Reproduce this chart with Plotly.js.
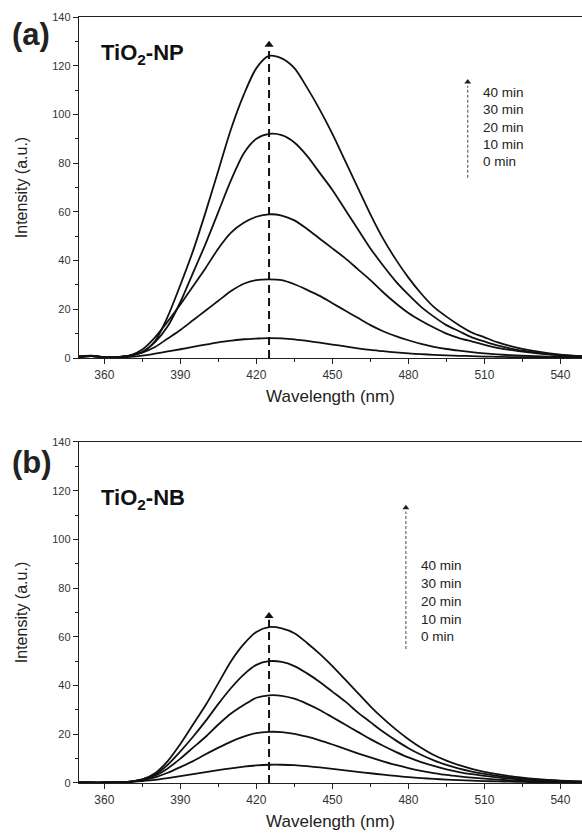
<!DOCTYPE html>
<html>
<head>
<meta charset="utf-8">
<script src="https://cdn.plot.ly/plotly-3.0.1.min.js"></script>
<style>html,body{margin:0;padding:0;background:#fff;}#chart{width:582px;height:836px;}</style>
</head>
<body>
<div id="chart"></div>
<script>
// Wavelength grid (nm)
const wavelength = [350,355,360,365,370,375,380,385,390,395,400,405,410,415,420,425,430,435,440,445,450,455,460,465,470,475,480,485,490,495,500,505,510,515,520,525,530,535,540,545,550];

const timeLabels = ["0 min","10 min","20 min","30 min","40 min"];

// Panel (a) TiO2-NP
const np_0min  = [0.8,1.0,0.4,0.3,0.5,1.0,1.8,2.7,3.6,4.6,5.5,6.4,7.1,7.7,8.0,8.2,8.1,7.7,7.0,6.3,5.5,4.8,4.0,3.3,2.8,2.3,1.9,1.6,1.3,1.1,0.9,0.8,0.6,0.5,0.4,0.35,0.3,0.25,0.2,0.15,0.1];
const np_10min = [0.6,0.9,0.3,0.4,1.0,2.2,4.5,8,11.5,15.5,19.5,23.5,27.5,30.5,32,32.3,32,30.3,28,25.5,22.5,19.5,16.5,13.5,11,9,7.3,5.8,4.6,3.7,3,2.4,1.9,1.5,1.2,1,0.8,0.6,0.5,0.4,0.3];
const np_20min = [0.5,0.8,0.3,0.4,1.0,3.5,8.5,15,22,29.5,37,45,51.5,55.5,58,59,58.5,56.5,53,49,45,41,36.5,32,27,22.5,18.5,15.3,12.5,10,8.2,6.8,5.4,4.2,3.3,2.6,2,1.5,1.1,0.8,0.6];
const np_30min = [0.5,0.8,0.3,0.4,1.0,2.5,6.5,13,23,35,47,60,73,84,90,92,91.5,88.5,83,76,69,61,53,45,38,31.5,26,21,17,13.5,11,8.5,6.8,5.2,4,3,2.3,1.7,1.2,0.9,0.6];
const np_40min = [0.5,0.8,0.3,0.4,1.0,2.5,7,17,30,44,60,77,94,108,119,124,123,119,111,102,92,81,70,59,49,40.5,33,26.5,21,17,13.5,10.5,8.5,6.5,5,3.8,2.8,2,1.4,1,0.7];

// Panel (b) TiO2-NB
const nb_0min  = [0.1,0.1,0.15,0.2,0.4,0.8,1.3,2,2.8,3.6,4.5,5.3,6,6.7,7.2,7.5,7.5,7.3,6.9,6.4,5.8,5.2,4.6,4,3.4,2.9,2.4,2,1.7,1.4,1.2,1,0.8,0.65,0.55,0.45,0.37,0.3,0.25,0.2,0.15];
const nb_10min = [0.2,0.2,0.2,0.3,0.5,1.1,2.3,4.2,6.5,9,11.8,14.5,17,19,20.5,21,20.9,20.2,19,17.5,15.8,14,12.2,10.5,8.9,7.4,6.1,5,4.1,3.3,2.7,2.2,1.8,1.4,1.1,0.9,0.7,0.55,0.45,0.35,0.3];
const nb_20min = [0.2,0.2,0.2,0.3,0.6,1.3,3,6,10,14.5,19,24,28.5,32,35,36,35.8,34.6,32.5,30,27,24,21,18,15.3,12.8,10.5,8.6,7,5.6,4.5,3.6,2.9,2.3,1.8,1.4,1.1,0.85,0.65,0.5,0.4];
const nb_30min = [0.2,0.2,0.2,0.3,0.6,1.5,3.5,7.5,13,19,25.5,32.5,39,44.5,48.5,50,49.7,48,45,41.5,37.5,33.5,29,25,21,17.5,14.3,11.6,9.3,7.4,5.9,4.7,3.7,2.9,2.3,1.8,1.4,1.1,0.85,0.65,0.5];
const nb_40min = [0.2,0.2,0.2,0.3,0.6,1.5,4,9,16,24,32,41,50,57,62,64,63.5,61.5,57.5,53,48,42.5,37,31.5,26.5,22,18,14.5,11.5,9.2,7.3,5.8,4.6,3.6,2.8,2.2,1.7,1.3,1,0.8,0.6];

const panelA = [np_0min, np_10min, np_20min, np_30min, np_40min];
const panelB = [nb_0min, nb_10min, nb_20min, nb_30min, nb_40min];

const FONT = "Liberation Sans, Arial, sans-serif";
const traces = [];
function addPanel(series, xa, ya){
  series.forEach((ys, i) => {
    traces.push({x: wavelength, y: ys, type: 'scatter', mode: 'lines', xaxis: xa, yaxis: ya,
      name: timeLabels[i], showlegend: false, hoverinfo: 'skip',
      line: {color: '#111', width: 1.8, shape: 'spline', smoothing: 0.8}});
  });
}
addPanel(panelA, 'x', 'y');
addPanel(panelB, 'x2', 'y2');

function peakOf(ys){ let k = 0; ys.forEach((v,i)=>{ if (v > ys[k]) k = i; }); return {x: wavelength[k], y: ys[k]}; }
const pkA = peakOf(np_40min), pkB = peakOf(nb_40min);

const xaxisBase = {range: [350, 548.5], tick0: 360, dtick: 30, ticks: 'outside', ticklen: 5, tickwidth: 1,
  tickcolor: '#222', linecolor: '#222', linewidth: 1.2, showline: true, mirror: true, showgrid: false, zeroline: false,
  tickfont: {family: FONT, size: 12, color: '#333'},
  minor: {dtick: 15, tick0: 345, ticks: 'outside', ticklen: 3, tickcolor: '#222', showgrid: false},
  title: {text: 'Wavelength (nm)', font: {family: FONT, size: 17, color: '#222'}, standoff: 9}};
const yaxisBase = {range: [0, 140], tick0: 0, dtick: 20, ticks: 'outside', ticklen: 5, tickwidth: 1,
  tickcolor: '#222', linecolor: '#222', linewidth: 1.2, showline: true, showgrid: false, zeroline: false,
  tickfont: {family: FONT, size: 11, color: '#333'},
  minor: {dtick: 10, ticks: 'outside', ticklen: 3, tickcolor: '#222', showgrid: false},
  title: {text: 'Intensity (a.u.)', font: {family: FONT, size: 16, color: '#222'}, standoff: 20}};

const shapes = [], annotations = [];
function guide(xa, ya, pk, arrowX, arrowY0, arrowY1, textX, textY0, step){
  shapes.push({type: 'line', xref: xa, yref: ya, x0: pk.x, x1: pk.x, y0: 0, y1: pk.y + 3,
    line: {color: '#111', width: 2, dash: '8px,5px'}});
  traces.push({x: [pk.x], y: [pk.y + 4.6], xaxis: xa, yaxis: ya, type: 'scatter', mode: 'markers',
    hoverinfo: 'skip', showlegend: false, marker: {symbol: 'triangle-up', size: 8, color: '#111'}});
  shapes.push({type: 'line', xref: xa, yref: ya, x0: arrowX, x1: arrowX, y0: arrowY0, y1: arrowY1 - 1.5,
    line: {color: '#666', width: 1.2, dash: '3px,2px'}});
  traces.push({x: [arrowX], y: [arrowY1], xaxis: xa, yaxis: ya, type: 'scatter', mode: 'markers',
    hoverinfo: 'skip', showlegend: false, marker: {symbol: 'triangle-up', size: 6, color: '#222'}});
  timeLabels.forEach((t, i) => {
    annotations.push({xref: xa, yref: ya, x: textX, y: textY0 + step * i, text: t, showarrow: false,
      xanchor: 'left', yanchor: 'middle', font: {family: FONT, size: 13.5, color: '#222'}});
  });
}
guide('x', 'y', pkA, 503.4, 74, 113.3, 508.6, 80.5, 7.15);
guide('x2', 'y2', pkB, 479, 55, 113, 484.3, 60.0, 7.3);

annotations.push({xref: 'paper', yref: 'paper', x: -0.137, y: 0.977, xanchor: 'left', yanchor: 'middle',
  text: '<b>(a)</b>', showarrow: false, font: {family: FONT, size: 31, color: '#222'}});
annotations.push({xref: 'paper', yref: 'paper', x: -0.137, y: 0.419, xanchor: 'left', yanchor: 'middle',
  text: '<b>(b)</b>', showarrow: false, font: {family: FONT, size: 31, color: '#222'}});
annotations.push({xref: 'x', yref: 'y', x: 358, y: 125, xanchor: 'left', yanchor: 'middle',
  text: '<b>TiO<sub>2</sub>-NP</b>', showarrow: false, font: {family: FONT, size: 22, color: '#111'}});
annotations.push({xref: 'x2', yref: 'y2', x: 358, y: 116.5, xanchor: 'left', yanchor: 'middle',
  text: '<b>TiO<sub>2</sub>-NB</b>', showarrow: false, font: {family: FONT, size: 22, color: '#111'}});

const layout = {
  width: 582, height: 836, paper_bgcolor: '#fff', plot_bgcolor: '#fff',
  margin: {l: 79, r: 0, t: 17, b: 53},
  xaxis: Object.assign({}, xaxisBase, {anchor: 'y'}),
  yaxis: Object.assign({}, yaxisBase, {domain: [0.5548, 1], anchor: 'x'}),
  xaxis2: Object.assign({}, xaxisBase, {anchor: 'y2'}),
  yaxis2: Object.assign({}, yaxisBase, {domain: [0, 0.4452], anchor: 'x2'}),
  shapes: shapes, annotations: annotations, showlegend: false
};
Plotly.newPlot('chart', traces, layout, {staticPlot: true, displayModeBar: false});
</script>
</body>
</html>
